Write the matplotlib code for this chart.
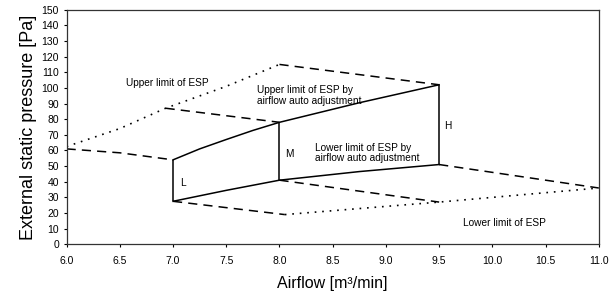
import matplotlib
matplotlib.use("Agg")
import matplotlib.pyplot as plt
from matplotlib import font_manager

fams = {f.name for f in font_manager.fontManager.ttflist}
narrow = "Liberation Sans Narrow" if "Liberation Sans Narrow" in fams else "Liberation Sans"
plt.rcParams['font.family'] = [narrow, 'DejaVu Sans']

# Data
upper_esp_x = [6.0, 6.5, 6.93, 7.5, 8.0]
upper_esp_y = [62.5, 74, 87, 101, 115]
upper_dash_x = [8.0, 9.5]
upper_dash_y = [115, 102]
mid_dash_x = [6.93, 8.0]
mid_dash_y = [87, 78]
left_dash_x = [6.0, 6.5, 7.0]
left_dash_y = [61, 58.5, 54]
upper_auto_x = [7.0, 7.25, 7.5, 7.75, 8.0, 8.75, 9.5]
upper_auto_y = [54, 61, 67, 72.8, 78, 90.5, 102]
lower_auto_x = [7.0, 7.5, 8.0, 8.75, 9.5]
lower_auto_y = [27.5, 34.5, 41, 46.5, 51]
fan_x = [7.0, 8.0, 9.5]          # L, M, H fan steps
fan_lo = [27.5, 41, 51]
fan_hi = [54, 78, 102]
low_dash1_x = [7.0, 8.05]
low_dash1_y = [27.5, 19]
low_dash2_x = [8.0, 9.5]
low_dash2_y = [41, 27]
low_dash3_x = [9.5, 11.0]
low_dash3_y = [51, 36]
lower_esp_x = [8.05, 9.5, 11.0]
lower_esp_y = [19, 27, 36]
x_ticks = [6.0, 6.5, 7.0, 7.5, 8.0, 8.5, 9.0, 9.5, 10.0, 10.5, 11.0]
y_ticks = list(range(0, 151, 10))

fig = plt.figure(figsize=(6.11, 2.97), dpi=100)
ax = fig.add_axes([0.109, 0.1774, 0.871, 0.79])

dash = (0, (6, 4))
lw = 1.1
dot = (0, (1, 3.5))
ax.plot(upper_esp_x, upper_esp_y, color='black', lw=1.2, linestyle=dot)
ax.plot(lower_esp_x, lower_esp_y, color='black', lw=1.2, linestyle=dot)
for xs, ys in [(upper_dash_x, upper_dash_y), (mid_dash_x, mid_dash_y),
               (left_dash_x, left_dash_y), (low_dash1_x, low_dash1_y),
               (low_dash2_x, low_dash2_y), (low_dash3_x, low_dash3_y)]:
    ax.plot(xs, ys, color='black', lw=lw, linestyle=dash)
ax.plot(upper_auto_x, upper_auto_y, color='black', lw=lw)
ax.plot(lower_auto_x, lower_auto_y, color='black', lw=lw)
ax.vlines(fan_x, fan_lo, fan_hi, color='black', lw=lw)

fs = 7.3
ax.text(7.07, 39, "L", fontsize=fs, va='center')
ax.text(8.05, 58, "M", fontsize=fs, va='center')
ax.text(9.55, 75.5, "H", fontsize=fs, va='center')
ax.text(6.56, 103, "Upper limit of ESP", fontsize=fs, va='center')
ax.text(7.79, 95.2, "Upper limit of ESP by\nairflow auto adjustment", fontsize=fs, va='center', linespacing=1.05)
ax.text(8.33, 58.3, "Lower limit of ESP by\nairflow auto adjustment", fontsize=fs, va='center', linespacing=1.05)
ax.text(9.72, 13.5, "Lower limit of ESP", fontsize=fs, va='center')

ax.set_xlim(6.0, 11.0)
ax.set_ylim(0, 150)
ax.set_xticks(x_ticks)
ax.set_yticks(y_ticks)
ax.set_xticklabels([f"{v:.1f}" for v in x_ticks])
ax.tick_params(axis='both', labelsize=7.5, length=2, width=0.8)
ax.tick_params(axis='x', pad=6.5)
ax.set_xlabel("Airflow [m³/min]", fontsize=11.5, labelpad=7)
ax.set_ylabel("External static pressure [Pa]", fontsize=13, labelpad=3)
for s in ax.spines.values():
    s.set_linewidth(0.9)
    s.set_color('#333333')

fig.savefig("out.png", dpi=100)
